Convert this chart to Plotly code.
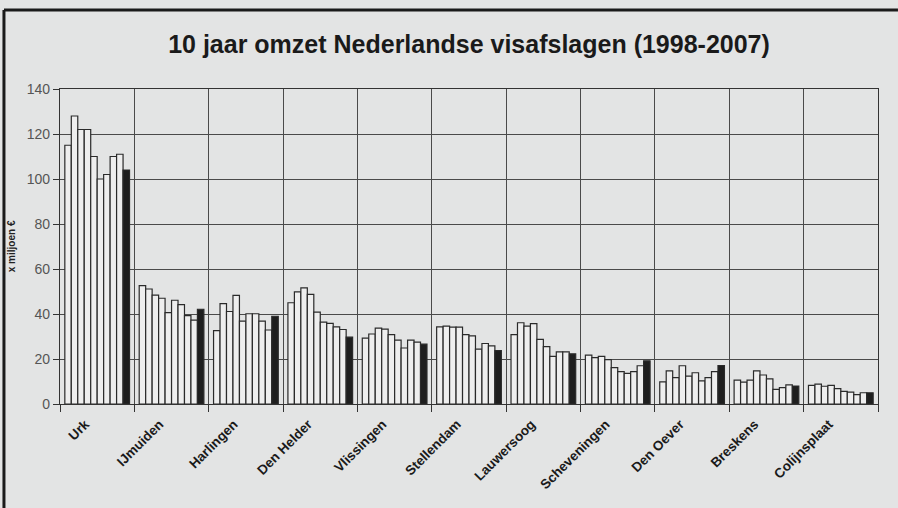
import plotly.graph_objects as go

ports = ["Urk", "IJmuiden", "Harlingen", "Den Helder", "Vlissingen", "Stellendam",
         "Lauwersoog", "Scheveningen", "Den Oever", "Breskens", "Colijnsplaat"]
years = [1998, 1999, 2000, 2001, 2002, 2003, 2004, 2005, 2006, 2007]

urk = [115, 128, 122, 122, 110, 100, 102, 110, 111, 104]
ijmuiden = [52.6, 51.1, 48.4, 47.0, 40.6, 46.1, 44.2, 39.3, 37.3, 42.1]
harlingen = [32.6, 44.6, 41.1, 48.3, 36.8, 40.1, 40.1, 36.8, 32.9, 39.0]
den_helder = [45.0, 49.8, 51.6, 48.7, 40.8, 36.4, 35.8, 34.3, 33.1, 29.7]
vlissingen = [29.3, 31.1, 33.7, 33.3, 30.8, 28.4, 24.9, 28.4, 27.5, 26.6]
stellendam = [34.3, 34.6, 34.2, 34.2, 30.8, 30.3, 24.4, 26.9, 25.8, 23.7]
lauwersoog = [30.8, 36.1, 34.6, 35.7, 28.7, 25.5, 21.2, 23.2, 23.2, 22.3]
scheveningen = [21.7, 20.6, 21.2, 19.7, 16.2, 14.4, 13.6, 14.4, 17.0, 19.2]
den_oever = [9.8, 14.7, 11.7, 17.0, 12.4, 13.9, 10.3, 11.7, 14.4, 17.1]
breskens = [10.6, 9.7, 10.6, 14.7, 12.9, 11.2, 6.5, 7.3, 8.5, 8.0]
colijnsplaat = [8.3, 8.8, 7.9, 8.3, 6.8, 5.6, 5.3, 4.2, 5.0, 5.0]

series = [urk, ijmuiden, harlingen, den_helder, vlissingen, stellendam,
          lauwersoog, scheveningen, den_oever, breskens, colijnsplaat]

y_ticks = [0, 20, 40, 60, 80, 100, 120, 140]

BG = "#e3e4e4"
FONT = "Liberation Sans, Arial, sans-serif"
fig = go.Figure()
for j, yr in enumerate(years):
    last = (j == len(years) - 1)
    fig.add_trace(go.Bar(
        x=ports,
        y=[s[j] for s in series],
        name=str(yr),
        marker=dict(color="#1e1e1e" if last else "#eeeeee",
                    line=dict(color="#2a2a2a", width=1.2)),
    ))

fig.update_layout(
    width=898, height=508,
    margin=dict(l=60, r=20, t=89, b=104, autoexpand=False),
    paper_bgcolor=BG, plot_bgcolor=BG,
    barmode="group", bargap=0.13, bargroupgap=0,
    showlegend=False,
    font=dict(family=FONT, color="#222"),
    title=dict(text="<b>10 jaar omzet Nederlandse visafslagen (1998-2007)</b>",
               x=0.5, xanchor="center", xref="paper", y=0.913, yanchor="middle",
               font=dict(size=25, color="#1a1a1a")),
    xaxis=dict(type="category", tickson="boundaries", showgrid=True,
               gridcolor="#4a4a4a", gridwidth=1, automargin=False,
               showline=True, linecolor="#333", linewidth=1.2, mirror=True,
               ticks="outside", ticklen=7, tickcolor="#333",
               tickangle=-45, ticklabelstandoff=6, ticklabelshift=-12,
               tickfont=dict(size=13.5, color="#1a1a1a", family=FONT, weight="bold"),
               zeroline=False),
    yaxis=dict(range=[0, 140], tickvals=y_ticks, showgrid=True,
               gridcolor="#4a4a4a", gridwidth=1, automargin=False,
               showline=True, linecolor="#333", linewidth=1.2, mirror=True,
               ticks="outside", ticklen=6, tickcolor="#333",
               tickfont=dict(size=14, color="#555"),
               zeroline=False),
    annotations=[dict(text="<b>x miljoen €</b>", xref="paper", yref="paper",
                      x=-0.059, y=0.5, textangle=-90, showarrow=False,
                      xanchor="center", yanchor="middle",
                      font=dict(size=10, color="#222"))],
)

# scan frame (left and top border)
fig.add_shape(type="line", xref="paper", yref="paper",
              x0=-0.0685, x1=-0.0685, y0=1.2508, y1=-0.4, line=dict(color="#1a1a1a", width=3))
fig.add_shape(type="line", xref="paper", yref="paper",
              x0=-0.0685, x1=1.0244, y0=1.2508, y1=1.2508, line=dict(color="#1a1a1a", width=3))

fig.write_html("out.html", config={"displayModeBar": False},
               post_script="document.body.style.margin='0';")
